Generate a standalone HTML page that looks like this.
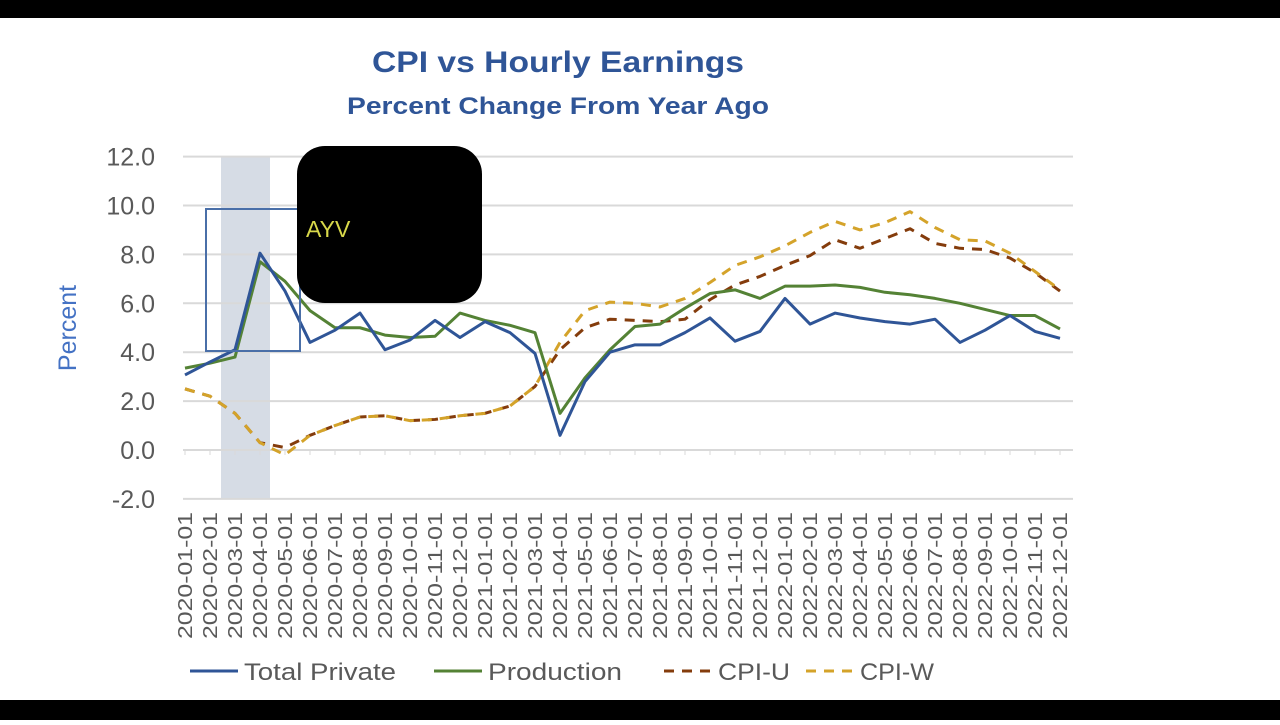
<!DOCTYPE html>
<html><head><meta charset="utf-8"><style>
body{margin:0;background:#fff;width:1280px;height:720px;overflow:hidden;font-family:"Liberation Sans",sans-serif}
</style></head><body>
<svg width="1280" height="720">
<rect x="0" y="0" width="1280" height="18" fill="#000"/>
<rect x="0" y="700" width="1280" height="20" fill="#000"/>
<text x="558" y="72" text-anchor="middle" font-size="30" font-weight="bold" fill="#2f5597" textLength="372" lengthAdjust="spacingAndGlyphs">CPI vs Hourly Earnings</text>
<text x="558" y="114" text-anchor="middle" font-size="24" font-weight="bold" fill="#2f5597" textLength="422" lengthAdjust="spacingAndGlyphs">Percent Change From Year Ago</text>
<text transform="translate(76,328) rotate(-90)" text-anchor="middle" font-size="25" fill="#4472c4">Percent</text>
<g id="grid"></g><g id="marks"></g>
</svg>
<script>
const months=[];for(let y=2020;y<=2022;y++)for(let m=1;m<=12;m++)months.push(y+'-'+String(m).padStart(2,'0')+'-01');
const yTicks=[-2,0,2,4,6,8,10,12];
const totalPrivate=[3.07,3.6,4.1,8.05,6.5,4.4,4.9,5.6,4.1,4.5,5.3,4.6,5.25,4.8,3.95,0.6,2.8,4.0,4.3,4.3,4.8,5.4,4.45,4.85,6.2,5.15,5.6,5.4,5.25,5.15,5.35,4.4,4.9,5.5,4.85,4.57];
const production=[3.35,3.55,3.8,7.7,6.9,5.7,5.0,5.0,4.7,4.6,4.65,5.6,5.3,5.1,4.8,1.5,2.95,4.1,5.05,5.15,5.8,6.4,6.55,6.2,6.7,6.7,6.75,6.65,6.45,6.35,6.2,6.0,5.75,5.5,5.5,4.95];
const cpiU=[2.5,2.2,1.5,0.3,0.1,0.6,1.0,1.35,1.4,1.2,1.25,1.4,1.5,1.8,2.6,4.1,5.0,5.35,5.3,5.25,5.35,6.15,6.75,7.1,7.55,7.95,8.6,8.25,8.65,9.05,8.45,8.25,8.2,7.85,7.25,6.5];
const cpiW=[2.5,2.2,1.5,0.3,-0.2,0.6,1.0,1.35,1.4,1.2,1.25,1.4,1.5,1.8,2.6,4.4,5.7,6.05,6.0,5.85,6.2,6.85,7.55,7.9,8.35,8.9,9.35,9.0,9.3,9.75,9.1,8.6,8.55,8.05,7.3,6.55];
const NS='http://www.w3.org/2000/svg';
const xs=i=>185+i*25, ys=v=>450-v*24.45;
const grid=document.getElementById('grid'), marks=document.getElementById('marks');
function mk(tag,attrs,parent){const e=document.createElementNS(NS,tag);for(const k in attrs)e.setAttribute(k,attrs[k]);parent.appendChild(e);return e;}
const band=mk('rect',{x:221,y:157,width:49,height:342,fill:'#d6dce5'},grid);


yTicks.forEach(t=>{
  const l=mk('line',{x1:183,x2:1073,y1:ys(t),y2:ys(t),stroke:'#d9d9d9','stroke-width':2},grid);
  
  
  const tx=mk('text',{x:155,y:ys(t)+9,'text-anchor':'end','font-size':25,fill:'#595959'},grid);
  tx.textContent=t.toFixed(1);
  
  
});
months.forEach((m,i)=>{
  const tk=mk('line',{x1:xs(i),x2:xs(i),y1:450,y2:455,stroke:'#d9d9d9','stroke-width':1},grid);
  
  
  const tx=mk('text',{transform:`translate(${xs(i)+7},512) rotate(-90)`,'text-anchor':'end','font-size':20,fill:'#595959',textLength:127,lengthAdjust:'spacingAndGlyphs'},grid);
  tx.textContent=m;
  
  
});
function series(arr,color,dash,name){
  const p=mk('polyline',{points:arr.map((v,i)=>xs(i)+','+ys(v)).join(' '),fill:'none',stroke:color,'stroke-width':3,'stroke-dasharray':dash,'stroke-linejoin':'round'},marks);
  
  
}
series(cpiU,'#843c0c','10 8','cpi-u-line');
series(cpiW,'#d4a32a','10 8','cpi-w-line');
series(production,'#548235','none','production-line');
series(totalPrivate,'#2f5597','none','total-private-line');
const box=mk('rect',{x:206,y:209,width:94,height:142,fill:'none',stroke:'#4a6fa8','stroke-width':2},marks);


const blob=mk('rect',{x:297,y:146,width:185,height:157,rx:28,fill:'#000'},marks);


const ayv=mk('text',{x:306,y:237,'font-size':23,fill:'#d8d84a'},marks);
ayv.textContent='AYV';


const leg=[['Total Private','#2f5597','none',190,152],['Production','#548235','none',434,134],['CPI-U','#843c0c','10 8',664,72],['CPI-W','#d4a32a','10 8',806,74]];
leg.forEach(([n,c,d,x,w])=>{
  const g=mk('g',{},marks);
  
  
  mk('line',{x1:x,x2:x+48,y1:671,y2:671,stroke:c,'stroke-width':3,'stroke-dasharray':d},g);
  const t=mk('text',{x:x+54,y:680,'font-size':24,fill:'#595959',textLength:w,lengthAdjust:'spacingAndGlyphs'},g);
  t.textContent=n;
});
</script>
</body></html>
